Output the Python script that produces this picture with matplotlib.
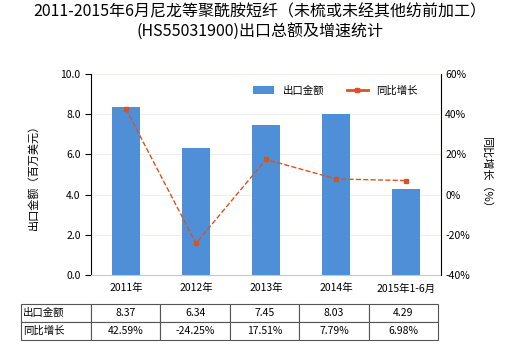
import matplotlib
matplotlib.use("Agg")
from matplotlib import pyplot as plt
from matplotlib.lines import Line2D

plt.rcParams['font.family'] = ['Noto Sans CJK SC', 'DejaVu Sans']

# Data
years = ["2011年", "2012年", "2013年", "2014年", "2015年1-6月"]
export_value = [8.37, 6.34, 7.45, 8.03, 4.29]
growth = [42.59, -24.25, 17.51, 7.79, 6.98]
value_labels = ["8.37", "6.34", "7.45", "8.03", "4.29"]
growth_labels = ["42.59%", "-24.25%", "17.51%", "7.79%", "6.98%"]

BAR_COLOR = "#4f8fd8"
LINE_COLOR = "#e0501e"
W, H = 520, 350

fig = plt.figure(figsize=(W / 100, H / 100), dpi=100)
ax = fig.add_axes([91 / W, 1 - 275 / H, 350 / W, 201 / H])
x = list(range(len(years)))

bars = ax.bar(x, export_value, width=0.41, color=BAR_COLOR, label="出口金额", zorder=2)
ax.set_xlim(-0.5, 4.5)
ax.set_ylim(0, 10)
ax.set_yticks([0, 2, 4, 6, 8, 10])
ax.set_yticklabels(["%.1f" % v for v in [0, 2, 4, 6, 8, 10]], fontsize=7.5)
ax.set_xticks(x)
ax.set_xticklabels(years, fontsize=7.5)
ax.tick_params(axis="x", length=0, pad=6)
ax.tick_params(axis="y", length=4, width=0.8)
ax.grid(axis="y", color="#f0f0e8", lw=0.8, zorder=0)
ax.spines["top"].set_visible(False)
ax.spines["right"].set_visible(False)
ax.spines["bottom"].set_color("#c8c8c8")
ax.set_ylabel("出口金额（百万美元）", fontsize=8, labelpad=16)

ax2 = ax.twinx()
ax2.plot(x, growth, color=LINE_COLOR, ls="--", lw=1, marker="s", ms=3, zorder=3)
ax2.set_ylim(-40, 60)
ax2.set_yticks(range(-40, 61, 20))
ax2.set_yticklabels(["%d%%" % v for v in range(-40, 61, 20)], fontsize=7.5)
ax2.tick_params(axis="y", length=0, pad=3)
ax2.spines["top"].set_visible(False)
ax2.spines["left"].set_visible(False)
ax2.spines["bottom"].set_visible(False)
ax2.set_ylabel("同比增长（%）", fontsize=8, rotation=-90, labelpad=16)

line_handle = Line2D([], [], color=LINE_COLOR, lw=2, marker="s", ms=3)
ax.legend([bars, line_handle], ["出口金额", "同比增长"], loc="upper right", ncol=2,
          fontsize=7.5, frameon=False, bbox_to_anchor=(0.96, 0.99),
          handlelength=2.0, columnspacing=2.2)

fig.suptitle("2011-2015年6月尼龙等聚酰胺短纤（未梳或未经其他纺前加工）\n(HS55031900)出口总额及增速统计",
             fontsize=11.5, y=0.99, linespacing=1.25)

# table under the chart
tax = fig.add_axes([21 / W, 1 - 340 / H, 417 / W, 36 / H])
tax.axis("off")
cells = [["出口金额"] + value_labels, ["同比增长"] + growth_labels]
table = tax.table(cellText=cells, bbox=[0, 0, 1, 1],
                  colWidths=[70] + [69.4] * 5, cellLoc="center")
table.auto_set_font_size(False)
table.set_fontsize(7.5)
for (r, c), cell in table.get_celld().items():
    cell.set_edgecolor("#555555")
    cell.set_linewidth(0.8)
    if c == 0:
        cell.set_text_props(ha="left")
        cell.PAD = 0.03

fig.savefig("out.png", dpi=100)
